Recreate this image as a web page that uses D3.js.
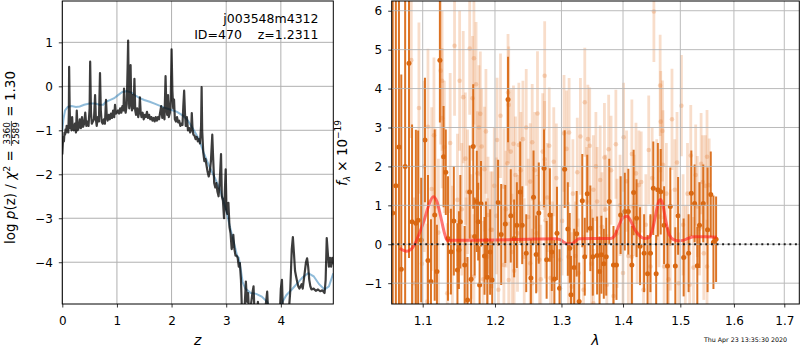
<!DOCTYPE html>
<html><head><meta charset="utf-8">
<script src="https://cdn.jsdelivr.net/npm/d3@7"></script>
<style>body{margin:0;background:#fff}svg{display:block}text{font-family:"DejaVu Sans",sans-serif;fill:#000}</style>
</head><body><svg id="c" width="800" height="350"></svg>
<script>
// ---------- DATA ----------
const zTicks = [0,1,2,3,4];
const pTicks = [-4,-3,-2,-1,0,1];
const lamTicks = [1.1,1.2,1.3,1.4,1.5,1.6,1.7];
const fTicks = [-1,0,1,2,3,4,5,6];

// log p(z), dark curve
const zDark = [0.00,0.01,0.02,0.03,0.04,0.05,0.06,0.07,0.08,0.09,0.10,0.11,0.12,0.125,0.135,0.145,0.16,0.17,0.18,0.19,0.21,0.23,0.25,0.265,0.28,0.30,0.32,0.34,0.36,0.38,0.40,0.42,0.44,0.46,0.48,0.50,0.51,0.525,0.54,0.56,0.58,0.60,0.615,0.63,0.65,0.67,0.69,0.705,0.72,0.74,0.76,0.78,0.80,0.815,0.83,0.85,0.87,0.89,0.91,0.93,0.95,0.965,0.98,1.00,1.02,1.04,1.06,1.08,1.10,1.12,1.13,1.145,1.16,1.18,1.195,1.205,1.215,1.225,1.24,1.25,1.26,1.275,1.29,1.305,1.32,1.335,1.35,1.37,1.39,1.41,1.42,1.435,1.45,1.47,1.49,1.51,1.53,1.55,1.57,1.59,1.61,1.63,1.65,1.67,1.69,1.71,1.73,1.75,1.77,1.79,1.81,1.83,1.85,1.87,1.89,1.905,1.92,1.935,1.95,1.97,1.985,2.0,2.015,2.03,2.045,2.06,2.08,2.10,2.12,2.14,2.16,2.18,2.20,2.215,2.23,2.245,2.26,2.28,2.30,2.32,2.34,2.36,2.37,2.385,2.40,2.42,2.44,2.46,2.48,2.50,2.52,2.54,2.55,2.56,2.58,2.60,2.62,2.64,2.66,2.68,2.70,2.72,2.745,2.76,2.78,2.80,2.82,2.84,2.86,2.88,2.905,2.92,2.94,2.96,2.975,2.99,3.005,3.02,3.04,3.06,3.08,3.10,3.115,3.13,3.15,3.17,3.19,3.21,3.23,3.25,3.27,3.29,3.33,3.36,3.38,3.40,3.42,3.45,3.48,3.50,3.52,3.56,3.58,3.60,3.70,3.73,3.75,3.77,3.98,4.00,4.02,4.04,4.14,4.17,4.20,4.22,4.24,4.26,4.28,4.30,4.32,4.34,4.36,4.38,4.40,4.42,4.44,4.46,4.48,4.50,4.52,4.54,4.56,4.60,4.64,4.68,4.72,4.76,4.80,4.82,4.84,4.86,4.88,4.90,4.92,4.94,4.96];
const pDark = [-1.55,-1.3,-1.15,-1.25,-1.05,-1.1,-0.98,-1.05,-0.9,-1.0,-0.95,-1.05,-0.6,0.44,-0.5,-0.95,-0.88,-1.0,-0.7,-0.95,-1.0,-0.85,-1.05,-0.55,-1.0,-0.95,-0.75,-0.95,-0.7,-0.92,-0.85,-0.6,-0.9,-0.8,-0.9,-0.5,0.56,-0.6,-0.85,-0.8,-0.75,-0.2,-0.75,-0.9,-0.7,-0.8,0.3,-0.55,-0.8,-0.85,-0.75,-0.85,-0.31,-0.7,-0.78,-0.65,-0.75,-0.62,-0.72,-0.55,-0.7,-0.42,-0.62,-0.6,-0.55,-0.62,-0.5,-0.6,-0.45,-0.55,-0.05,-0.5,-0.6,-0.4,0.4,1.04,0.0,-0.5,-0.3,0.48,-0.3,-0.55,-0.2,-0.5,0.17,-0.55,-0.65,-0.5,-0.7,-0.55,-0.25,-0.6,-0.7,-0.6,-0.75,-0.65,-0.7,-0.58,-0.72,-0.65,-0.75,-0.7,-0.78,-0.72,-0.8,-0.7,-0.78,-0.7,-0.75,-0.6,-0.45,-0.72,-0.5,-0.75,0.23,-0.5,-0.65,-0.2,-0.7,-0.6,-0.3,0.84,-0.1,-0.5,-0.3,-0.75,-0.8,-0.7,-0.82,-0.78,-0.9,-0.85,-0.88,-0.45,-0.1,-0.6,-0.9,-0.7,-1.0,-0.95,-1.05,-0.95,-0.61,-1.0,-1.1,-1.12,-1.2,-1.15,-1.25,-1.2,-1.3,-0.9,-0.02,-1.0,-1.5,-1.7,-1.65,-1.8,-1.95,-2.05,-1.95,-1.7,-1.1,-1.6,-2.2,-2.3,-2.2,-2.4,-2.5,-2.2,-1.54,-2.5,-2.6,-3.0,-2.4,-1.89,-2.8,-2.9,-2.65,-3.2,-3.35,-3.7,-3.6,-3.38,-3.7,-3.85,-3.85,-3.9,-4.1,-4.02,-4.4,-5.2,-5.2,-4.44,-4.9,-4.7,-5.2,-5.0,-4.7,-4.55,-5.2,-5.2,-4.9,-5.2,-5.2,-4.9,-4.67,-5.2,-5.2,-4.6,-4.4,-5.2,-5.2,-4.7,-3.7,-3.43,-3.8,-4.2,-4.33,-4.45,-4.55,-4.6,-4.55,-4.5,-4.6,-4.4,-4.2,-4.0,-3.91,-4.1,-4.4,-4.55,-4.62,-4.6,-4.65,-4.62,-4.66,-4.64,-4.7,-4.4,-3.45,-3.8,-4.1,-3.9,-4.1,-3.9,-4.05];

// smooth (blue) curve
const zSmooth = [0.0,0.02,0.05,0.1,0.17,0.25,0.32,0.4,0.5,0.6,0.68,0.75,0.8,0.88,0.95,1.02,1.1,1.18,1.26,1.35,1.42,1.5,1.6,1.7,1.8,1.9,2.0,2.1,2.2,2.3,2.4,2.5,2.6,2.7,2.8,2.9,3.0,3.05,3.1,3.15,3.2,3.23,3.27,3.3,3.35,3.45,3.55,3.65,3.75,3.8,3.95,4.02,4.1,4.2,4.3,4.4,4.5,4.6,4.7,4.8,4.88,4.96];
const pSmooth = [-1.0,-0.75,-0.55,-0.47,-0.45,-0.47,-0.46,-0.42,-0.39,-0.39,-0.42,-0.42,-0.35,-0.31,-0.27,-0.2,-0.13,-0.11,-0.14,-0.22,-0.27,-0.31,-0.35,-0.4,-0.45,-0.5,-0.54,-0.58,-0.66,-0.78,-0.98,-1.2,-1.55,-1.85,-2.1,-2.4,-2.82,-3.1,-3.35,-3.6,-3.85,-3.9,-4.2,-4.45,-4.6,-4.7,-4.72,-4.78,-4.9,-5.05,-5.05,-4.92,-4.75,-4.62,-4.48,-4.34,-4.25,-4.32,-4.5,-4.62,-4.55,-4.25];

// spectrum, grism A (dark)
const lamA = [1.061,1.065,1.069,1.072,1.077,1.082,1.086,1.091,1.094,1.098,1.103,1.107,1.111,1.116,1.119,1.123,1.128,1.131,1.134,1.138,1.142,1.147,1.149,1.151,1.157,1.161,1.164,1.166,1.169,1.171,1.174,1.176,1.178,1.180,1.185,1.187,1.189,1.193,1.196,1.2045,1.209,1.215,1.219,1.223,1.228,1.232,1.237,1.240,1.246,1.253,1.257,1.261,1.265,1.273,1.277,1.282,1.285,1.289,1.293,1.297,1.305,1.310,1.313,1.315,1.320,1.324,1.328,1.333,1.337,1.341,1.346,1.350,1.357,1.361,1.364,1.368,1.372,1.377,1.384,1.389,1.396,1.403,1.409,1.415,1.418,1.423,1.429,1.436,1.442,1.447,1.452,1.457,1.460,1.465,1.471,1.477,1.482,1.491,1.496,1.506,1.515,1.520,1.526,1.531,1.535,1.542,1.550,1.556,1.561,1.566];
const fluxA = [0.80,1.5,2.5,-0.64,2.0,4.65,0.58,0.54,0.62,0.11,2.68,-0.42,-0.96,0.75,-0.70,4.73,2.25,1.85,0.15,-0.19,0.60,-0.66,-0.15,0.58,-0.53,-1.43,1.34,-0.9,2.51,0.2,1.10,0.58,-1.05,1.04,-0.3,0.1,-0.85,-0.2,-0.92,1.07,0.25,0.52,3.72,0.73,0.15,0.49,1.34,0.49,-0.23,-0.87,1.21,-0.26,0.80,1.95,-0.40,0.75,-0.2,-0.89,0.28,-1.13,1.93,0.39,-0.10,-1.30,-0.6,0.27,-1.47,1.12,-0.32,1.30,0.41,-0.32,-0.29,-0.7,-0.27,-0.5,-0.32,1.10,-0.53,-0.53,0.75,0.84,0.84,-0.53,1.33,0.67,-0.05,-0.23,-0.76,-0.23,1.44,-0.76,1.40,1.35,0.49,-0.56,0.97,-0.56,0.73,-0.34,-0.23,1.31,1.05,-0.55,0.49,1.05,0.37,1.28,0.05,0.13];
const errA = [9,8,7,5,7,5,2.5,2.4,2.3,1.6,1.6,2.2,1.6,2.2,1.2,1.6,1.3,1.1,1.6,1.1,1.4,1.2,1.0,1.2,1.0,1.1,1.2,1.0,1.6,1.0,1.3,1.0,1.0,1.1,1.0,1.0,0.9,1.1,1.0,1.1,1.3,1.0,1.1,1.2,1.0,1.1,1.3,1.0,1.0,1.0,1.2,1.0,1.3,1.0,1.0,1.2,1.0,1.0,1.2,1.0,1.0,1.2,0.9,1.0,1.0,1.1,1.0,1.2,1.0,1.0,1.1,1.0,1.0,0.9,1.0,0.9,1.0,1.1,1.0,0.9,1.0,1.0,1.1,1.0,1.1,1.0,1.0,1.0,1.0,1.0,1.2,1.0,1.2,1.1,1.0,1.0,1.0,1.0,1.0,1.0,1.0,1.1,1.0,1.0,1.1,1.0,1.6,1.1,1.2,1.1];

// spectrum, grism B (light)
const lamB = [1.085,1.102,1.107,1.112,1.124,1.126,1.126,1.129,1.143,1.155,1.161,1.164,1.168,1.170,1.173,1.179,1.181,1.185,1.190,1.194,1.202,1.203,1.213,1.218,1.219,1.220,1.223,1.227,1.230,1.235,1.241,1.252,1.255,1.263,1.271,1.274,1.274,1.281,1.288,1.304,1.312,1.308,1.325,1.330,1.337,1.342,1.345,1.351,1.357,1.362,1.369,1.376,1.388,1.401,1.406,1.415,1.422,1.427,1.444,1.450,1.453,1.464,1.465,1.468,1.469,1.485,1.494,1.502,1.519,1.528,1.538,1.546,1.549,
  1.089,1.106,1.117,1.133,1.147,1.159,1.170,1.175,1.189,1.196,1.205,1.213,1.220,1.228,1.233,1.243,1.252,1.255,1.262,1.268,1.275,1.283,1.298,1.311,1.316,1.327,1.335,1.351,1.365,1.373,1.384,1.390,1.400,1.415,1.424,1.435,1.447,1.462,1.471,1.482,1.497,1.509,1.517,1.531,1.543,1.549,1.553,
  1.095,1.099,1.115,1.121,1.137,1.140,1.150,1.153,1.158,1.166,1.177,1.183,1.187,1.199,1.208,1.216,1.225,1.238,1.246,1.249,1.259,1.266,1.278,1.286,1.292,1.301,1.318,1.322,1.340,1.348,1.355,1.371,1.380,1.395,1.409,1.419,1.431,1.439,1.458,1.475,1.479,1.490,1.505,1.513,1.524,1.535,1.541];
const fluxB = [4.73,2.00,3.02,1.42,4.46,4.20,3.24,2.50,5.10,3.78,1.35,5.03,3.75,4.78,4.11,3.35,2.51,1.93,0.75,0.37,0.73,2.68,1.48,2.08,3.90,3.58,2.38,2.58,1.78,2.55,2.70,1.61,2.62,3.36,2.38,4.33,2.18,2.53,2.12,2.85,2.87,2.45,1.85,2.77,3.65,2.70,2.53,1.40,1.10,1.65,2.23,2.44,2.57,2.75,1.62,2.32,1.82,1.52,2.42,1.70,5.98,4.08,3.15,2.91,2.04,3.21,2.10,3.56,2.28,1.78,2.07,1.50,2.25,
  -1.00,-1.47,0.97,-1.26,1.14,-0.40,-0.83,1.82,-0.32,0.37,-1.17,-0.53,-0.92,-0.68,0.28,-0.32,-0.49,-1.00,0.28,-0.90,0.62,-0.87,-0.40,-0.32,-1.09,-0.74,-1.17,-1.52,0.45,-1.04,-1.33,0.28,-0.74,-0.32,0.28,-1.17,-0.57,0.71,-0.57,0.11,-1.00,-0.32,-1.04,0.97,-0.23,-0.57,1.52,
  3.5,-0.5,2.8,0.3,2.6,-0.2,4.2,0.9,2.2,0.2,3.0,-0.9,2.9,1.5,3.3,0.9,-0.2,1.9,3.0,0.7,1.9,-0.4,1.2,-0.3,1.7,0.6,1.3,-0.3,1.1,-0.5,2.0,0.9,1.9,1.0,-0.3,1.0,1.6,0.5,1.4,1.3,-0.9,1.4,0.5,1.3,-0.6,0.4,1.6];
const errB = [2.0,2.2,2.0,2.1,1.9,1.8,1.8,1.7,1.8,1.7,1.6,1.7,1.6,1.7,1.6,1.6,1.5,1.6,1.5,1.5,1.5,1.6,1.5,1.6,1.5,1.5,1.6,1.5,1.5,1.6,1.5,1.5,1.5,1.6,1.5,1.4,1.5,1.5,1.4,1.5,1.4,1.5,1.4,1.5,1.4,1.4,1.5,1.4,1.4,1.4,1.4,1.4,1.4,1.4,1.3,1.4,1.3,1.4,1.4,1.3,1.3,1.3,1.3,1.3,1.4,1.3,1.3,1.3,1.3,1.3,1.3,1.3,1.2,
  2.2,2.0,2.0,1.8,1.7,1.6,1.6,1.6,1.5,1.5,1.5,1.5,1.5,1.5,1.5,1.5,1.5,1.4,1.5,1.4,1.5,1.4,1.4,1.4,1.4,1.4,1.4,1.4,1.4,1.3,1.3,1.4,1.3,1.3,1.3,1.3,1.3,1.3,1.3,1.3,1.3,1.3,1.3,1.3,1.2,1.2,1.2,
  2.2,2.2,2.0,1.9,1.8,1.7,1.8,1.7,1.7,1.6,1.6,1.5,1.6,1.5,1.6,1.5,1.5,1.5,1.5,1.5,1.5,1.5,1.4,1.4,1.4,1.4,1.4,1.4,1.4,1.4,1.4,1.4,1.4,1.3,1.3,1.3,1.3,1.3,1.3,1.3,1.3,1.3,1.3,1.3,1.3,1.2,1.2];

// best-fit model
const lamModel = [1.070,1.075,1.079,1.084,1.089,1.095,1.102,1.108,1.114,1.119,1.124,1.129,1.133,1.140,1.200,1.250,1.290,1.298,1.304,1.309,1.316,1.322,1.328,1.350,1.380,1.386,1.393,1.400,1.407,1.413,1.420,1.428,1.436,1.443,1.450,1.456,1.461,1.465,1.469,1.474,1.480,1.488,1.496,1.505,1.514,1.525,1.545,1.567];
const fluxModel = [-0.10,-0.16,-0.18,-0.14,-0.02,0.25,0.62,1.00,1.22,1.10,0.72,0.30,0.09,0.10,0.11,0.13,0.14,0.12,0.05,0.01,0.01,0.08,0.14,0.15,0.15,0.22,0.48,0.68,0.72,0.60,0.38,0.22,0.15,0.16,0.35,0.75,1.08,1.15,1.0,0.6,0.25,0.12,0.09,0.10,0.15,0.19,0.19,0.18];

// ---------- DRAW ----------
const svg = d3.select("#c");
const FONT = 12;
const L = {x0:62.3, x1:333.3, y0:1, y1:304};
const R = {x0:391.7, x1:799.3, y0:1, y1:304};

const xL = d3.scaleLinear().domain([0,4.96]).range([L.x0,L.x1]);
const yL = d3.scaleLinear().domain([-4.95,1.94]).range([L.y1,L.y0]);
const xR = d3.scaleLog().domain([1.0597,1.731]).range([R.x0,R.x1]);
const yR = d3.scaleLinear().domain([-1.535,6.25]).range([R.y1,R.y0]);

const defs = svg.append("defs");
defs.append("clipPath").attr("id","clipL").append("rect").attr("x",L.x0).attr("y",L.y0).attr("width",L.x1-L.x0).attr("height",L.y1-L.y0);
defs.append("clipPath").attr("id","clipR").append("rect").attr("x",R.x0).attr("y",R.y0).attr("width",R.x1-R.x0).attr("height",R.y1-R.y0);

function grid(g, P, xs, xt, ys, yt){
  g.selectAll(null).data(xt).join("line").attr("x1",d=>xs(d)).attr("x2",d=>xs(d)).attr("y1",P.y0).attr("y2",P.y1)
    .attr("stroke","#b0b0b0").attr("stroke-width",1);
  g.selectAll(null).data(yt).join("line").attr("y1",d=>ys(d)).attr("y2",d=>ys(d)).attr("x1",P.x0).attr("x2",P.x1)
    .attr("stroke","#b0b0b0").attr("stroke-width",1);
}
function styleAxis(g, bottom){
  g.select(".domain").remove();
  g.selectAll("line").attr("stroke","#000").attr("stroke-width",0.8);
  g.selectAll("text").attr("font-family","DejaVu Sans").attr("font-size",FONT).attr("fill","#000");
  if(bottom) g.selectAll("text").attr("y",12.5);
}

// ---- Left panel ----
grid(svg.append("g"), L, xL, zTicks, yL, pTicks);
const gLc = svg.append("g").attr("clip-path","url(#clipL)");
gLc.append("path").datum(zSmooth.map((z,i)=>[z,pSmooth[i]]))
  .attr("d", d3.line().x(d=>xL(d[0])).y(d=>yL(d[1])))
  .attr("fill","none").attr("stroke","#1f77b4").attr("stroke-opacity",0.5).attr("stroke-width",2);
gLc.append("path").datum(zDark.map((z,i)=>[z,pDark[i]]))
  .attr("d", d3.line().x(d=>xL(d[0])).y(d=>yL(d[1])))
  .attr("fill","none").attr("stroke","#000").attr("stroke-opacity",0.76).attr("stroke-width",2.2).attr("stroke-linejoin","round");

svg.append("g").attr("transform",`translate(0,${L.y1})`)
  .call(d3.axisBottom(xL).tickValues(zTicks).tickSize(3.5).tickFormat(d3.format("d"))).call(g=>styleAxis(g,true));
svg.append("g").attr("transform",`translate(${L.x0},0)`)
  .call(d3.axisLeft(yL).tickValues(pTicks).tickSize(3.5).tickPadding(6).tickFormat(d3.format("d"))).call(g=>styleAxis(g,false));
svg.append("rect").attr("x",L.x0).attr("y",L.y0).attr("width",L.x1-L.x0).attr("height",L.y1-L.y0)
  .attr("fill","none").attr("stroke","#000").attr("stroke-width",1);

svg.append("text").attr("x",318.5).attr("y",23).attr("text-anchor","end").attr("font-size",12.5).text("j003548m4312");
svg.append("text").attr("x",318.5).attr("y",39).attr("text-anchor","end").attr("font-size",12.5)
  .style("white-space","pre").text("ID=470    z=1.2311");

svg.append("text").attr("x",(L.x0+L.x1)/2).attr("y",345).attr("text-anchor","middle").attr("font-size",14)
  .attr("font-style","italic").text("z");

// left y label with fraction
{
  const g = svg.append("g").attr("transform","translate(15,157.5) rotate(-90)");
  const t1 = g.append("text").attr("font-size",13.5).style("white-space","pre");
  t1.append("tspan").text("log ");
  t1.append("tspan").attr("font-style","italic").text("p");
  t1.append("tspan").text("(z) / ");
  t1.append("tspan").attr("font-style","italic").text("χ");
  t1.append("tspan").attr("font-size",9.5).attr("dy",-5.5).text("2");
  t1.append("tspan").attr("font-size",13.5).attr("dy",5.5).text(" = ");
  const w1 = t1.node().getComputedTextLength();
  const num = g.append("text").attr("font-size",9).text("3360");
  const den = g.append("text").attr("font-size",9).text("2589");
  const wn = num.node().getComputedTextLength(), wd = den.node().getComputedTextLength();
  const wf = Math.max(wn,wd)+2;
  const t3 = g.append("text").attr("font-size",13.5).style("white-space","pre").text(" = 1.30");
  const w3 = t3.node().getComputedTextLength();
  const x0 = -(w1+wf+w3)/2;
  t1.attr("x",x0);
  num.attr("x",x0+w1+(wf-wn)/2).attr("y",-5.5);
  den.attr("x",x0+w1+(wf-wd)/2).attr("y",3.5);
  g.append("line").attr("x1",x0+w1).attr("x2",x0+w1+wf).attr("y1",-3.6).attr("y2",-3.6).attr("stroke","#000").attr("stroke-width",0.7);
  t3.attr("x",x0+w1+wf);
}

// ---- Right panel ----
const ORANGE = "rgb(217,104,18)";
const gRc = svg.append("g").attr("clip-path","url(#clipR)");
const B = lamB.map((l,i)=>({l, f:fluxB[i], e:errB[i]}));
const A = lamA.map((l,i)=>({l, f:fluxA[i], e:errA[i]}));
gRc.append("g").selectAll("line").data(B).join("line")
  .attr("x1",d=>xR(d.l)).attr("x2",d=>xR(d.l)).attr("y1",d=>yR(d.f-d.e)).attr("y2",d=>yR(d.f+d.e))
  .attr("stroke","rgb(230,130,60)").attr("stroke-opacity",0.27).attr("stroke-width",2.8);
gRc.append("g").selectAll("circle").data(B).join("circle")
  .attr("cx",d=>xR(d.l)).attr("cy",d=>yR(d.f)).attr("r",2.3).attr("fill","rgb(230,130,60)").attr("fill-opacity",0.3);
gRc.append("g").selectAll("line").data(A).join("line")
  .attr("x1",d=>xR(d.l)).attr("x2",d=>xR(d.l)).attr("y1",d=>yR(d.f-d.e)).attr("y2",d=>yR(d.f+d.e))
  .attr("stroke",ORANGE).attr("stroke-opacity",0.92).attr("stroke-width",2);
gRc.append("g").selectAll("circle").data(A).join("circle")
  .attr("cx",d=>xR(d.l)).attr("cy",d=>yR(d.f)).attr("r",2.5).attr("fill",ORANGE);

grid(svg.append("g").attr("opacity",0.85), R, xR, lamTicks, yR, fTicks);

gRc.append("path").datum(lamModel.map((l,i)=>[l,fluxModel[i]]))
  .attr("d", d3.line().curve(d3.curveMonotoneX).x(d=>xR(d[0])).y(d=>yR(d[1])))
  .attr("fill","none").attr("stroke","#ff1a1a").attr("stroke-opacity",0.6).attr("stroke-width",3);
const gz = svg.append("g").attr("clip-path","url(#clipR)");
gz.append("line").attr("x1",R.x0).attr("x2",R.x1).attr("y1",yR(0)).attr("y2",yR(0))
  .attr("stroke","#000").attr("stroke-width",2).attr("stroke-dasharray","2,3.6").attr("stroke-opacity",0.85);

svg.append("g").attr("transform",`translate(0,${R.y1})`)
  .call(d3.axisBottom(xR).tickValues(lamTicks).tickSize(3.5).tickFormat(d3.format(".1f"))).call(g=>styleAxis(g,true));
svg.append("g").attr("transform",`translate(${R.x0},0)`)
  .call(d3.axisLeft(yR).tickValues(fTicks).tickSize(3.5).tickPadding(6).tickFormat(d3.format("d"))).call(g=>styleAxis(g,false));
svg.append("rect").attr("x",R.x0).attr("y",R.y0).attr("width",R.x1-R.x0).attr("height",R.y1-R.y0)
  .attr("fill","none").attr("stroke","#000").attr("stroke-width",1);

svg.append("text").attr("x",(R.x0+R.x1)/2).attr("y",345).attr("text-anchor","middle").attr("font-size",14)
  .attr("font-style","italic").text("λ");

{
  const g = svg.append("g").attr("transform","translate(347,153) rotate(-90)");
  const t = g.append("text").attr("font-size",13.5).attr("text-anchor","middle").style("white-space","pre");
  t.append("tspan").attr("font-style","italic").text("f");
  t.append("tspan").attr("font-size",9).attr("font-style","italic").attr("dy",3).text("λ");
  t.append("tspan").attr("font-size",13.5).attr("dy",-3).text(" × 10");
  t.append("tspan").attr("font-size",9).attr("dy",-6).text("−19");
}

svg.append("text").attr("x",787).attr("y",342).attr("text-anchor","end").attr("font-size",6.3).attr("fill","#000").text("Thu Apr 23 13:35:30 2020");
</script></body></html>
